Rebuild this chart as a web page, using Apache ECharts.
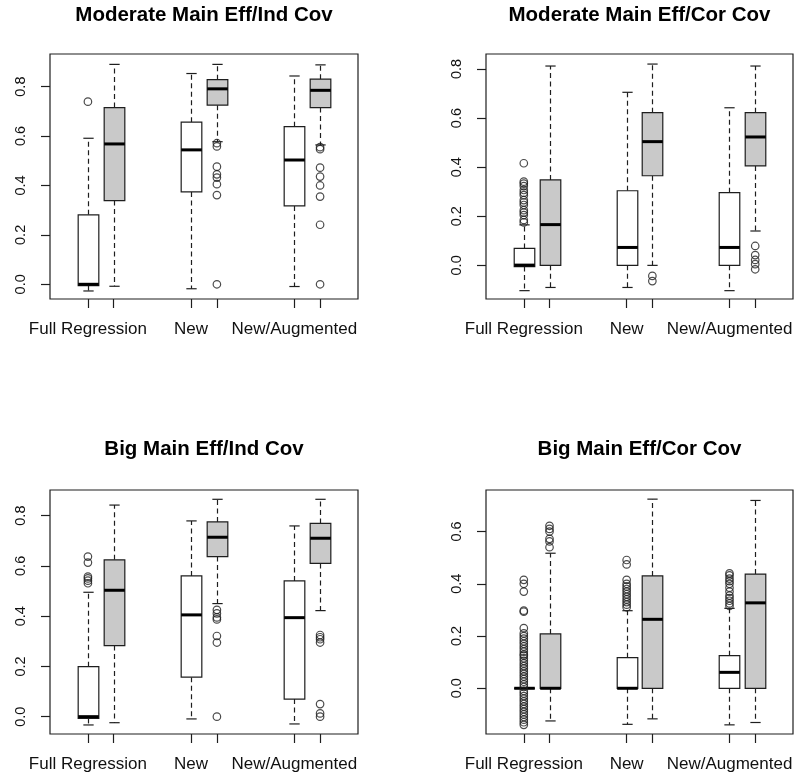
<!DOCTYPE html>
<html>
<head>
<meta charset="utf-8">
<script src="https://cdn.jsdelivr.net/npm/echarts@6/dist/echarts.min.js"></script>
<style>
  html, body { margin: 0; padding: 0; background: #fff; }
  #chart { width: 797px; height: 781px; }
</style>
</head>
<body>
<div id="chart"></div>
<script>
// Box positions along each x axis: white box, then grey box, per method
const boxPositions = [1, 2, 5, 6, 9, 10];
const labelPositions = [1, 5, 9];
const groupLabels = ['Full Regression', 'New', 'New/Augmented'];
const yTicks = [0, 0.2, 0.4, 0.6, 0.8];
const panelTitles = [
  'Moderate Main Eff/Ind Cov',
  'Moderate Main Eff/Cor Cov',
  'Big Main Eff/Ind Cov',
  'Big Main Eff/Cor Cov'
];

// Five-number summaries per box: [lower whisker, Q1, median, Q3, upper whisker]
const modIndStats = [
  [-0.027, -0.005, 0.0, 0.281, 0.591],
  [-0.008, 0.339, 0.568, 0.715, 0.890],
  [-0.018, 0.374, 0.544, 0.656, 0.853],
  [0.577, 0.725, 0.791, 0.828, 0.890],
  [-0.009, 0.317, 0.503, 0.638, 0.843],
  [0.564, 0.715, 0.785, 0.830, 0.888]
];
const modIndOutliers = [
  [0.739],
  [],
  [],
  [0.571, 0.558, 0.476, 0.445, 0.432, 0.405, 0.361, 0.0],
  [],
  [0.555, 0.547, 0.472, 0.436, 0.400, 0.355, 0.241, 0.0]
];

const modCorStats = [
  [-0.103, -0.005, 0.001, 0.069, 0.165],
  [-0.090, 0.0, 0.166, 0.348, 0.812],
  [-0.090, 0.0, 0.073, 0.304, 0.705],
  [0.0, 0.365, 0.504, 0.622, 0.820],
  [-0.103, 0.0, 0.073, 0.296, 0.642],
  [0.140, 0.405, 0.523, 0.622, 0.812]
];
const modCorOutliers = [
  [0.416, 0.341, 0.333, 0.323, 0.307, 0.296, 0.286, 0.266, 0.256, 0.246, 0.225, 0.215, 0.205, 0.185, 0.175],
  [],
  [],
  [-0.043, -0.064],
  [],
  [0.079, 0.042, 0.022, 0.005, -0.016]
];

const bigIndStats = [
  [-0.033, -0.007, 0.0, 0.199, 0.495],
  [-0.024, 0.283, 0.503, 0.624, 0.842],
  [-0.009, 0.157, 0.405, 0.560, 0.779],
  [0.450, 0.637, 0.714, 0.775, 0.865],
  [-0.029, 0.070, 0.394, 0.540, 0.759],
  [0.422, 0.610, 0.710, 0.769, 0.865]
];
const bigIndOutliers = [
  [0.637, 0.613, 0.557, 0.550, 0.541, 0.531],
  [],
  [],
  [0.425, 0.411, 0.395, 0.387, 0.321, 0.295, 0.0],
  [],
  [0.325, 0.316, 0.308, 0.295, 0.050, 0.013, 0.0]
];

const bigCorStats = [
  [0.0, 0.0, 0.0, 0.0, 0.0],
  [-0.125, 0.0, 0.0, 0.208, 0.517],
  [-0.138, 0.0, 0.0, 0.117, 0.297],
  [-0.117, 0.0, 0.264, 0.430, 0.724],
  [-0.140, 0.0, 0.061, 0.125, 0.306],
  [-0.131, 0.0, 0.327, 0.437, 0.719]
];
const bigCorOutliers = [
  [0.415, 0.400, 0.370, 0.297, 0.293, 0.230, 0.210, 0.200, 0.190, 0.180, 0.170, 0.160,
   0.150, 0.140, 0.130, 0.125, 0.115, 0.105, 0.095, 0.085, 0.075, 0.065, 0.055, 0.045,
   0.035, 0.025, 0.015, 0.005, -0.010, -0.020, -0.030, -0.040, -0.050, -0.060, -0.070,
   -0.080, -0.090, -0.100, -0.110, -0.120, -0.130, -0.140],
  [0.622, 0.610, 0.600, 0.572, 0.562, 0.540],
  [0.491, 0.474, 0.415, 0.400, 0.390, 0.380, 0.370, 0.360, 0.350, 0.340, 0.330, 0.320, 0.310],
  [],
  [0.440, 0.432, 0.420, 0.410, 0.400, 0.385, 0.370, 0.355, 0.345, 0.335, 0.325, 0.315],
  []
];

// Layout of the four plotting regions and their y ranges
const panels = [
  { stats: modIndStats, outliers: modIndOutliers, grid: { left: 50, top: 54, width: 308, height: 245 }, yMin: -0.0595, yMax: 0.932, titleTop: 5 },
  { stats: modCorStats, outliers: modCorOutliers, grid: { left: 486, top: 54, width: 307, height: 245 }, yMin: -0.137, yMax: 0.861, titleTop: 5 },
  { stats: bigIndStats, outliers: bigIndOutliers, grid: { left: 50, top: 490, width: 308, height: 244 }, yMin: -0.069, yMax: 0.902, titleTop: 439 },
  { stats: bigCorStats, outliers: bigCorOutliers, grid: { left: 486, top: 490, width: 307, height: 244 }, yMin: -0.175, yMax: 0.759, titleTop: 439 }
];

const INK = '#1e1e1e';
const FILLS = ['#ffffff', '#c9c9c9'];
const BOX_WIDTH = 0.8;

function renderBox(params, api) {
  const pos = api.value(0);
  const low = api.coord([pos, api.value(1)]);
  const q1 = api.coord([pos, api.value(2)]);
  const med = api.coord([pos, api.value(3)]);
  const q3 = api.coord([pos, api.value(4)]);
  const high = api.coord([pos, api.value(5)]);
  const fill = FILLS[api.value(6)];
  const half = api.size([BOX_WIDTH, 0])[0] / 2;
  const cap = half / 2;
  const x = Math.round(low[0]) + 0.5;
  const solid = { stroke: INK, lineWidth: 1.2 };
  const dashed = { stroke: INK, lineWidth: 1.2, lineDash: [5, 3.5] };
  return {
    type: 'group',
    children: [
      { type: 'line', shape: { x1: x, y1: q1[1], x2: x, y2: low[1] }, style: dashed },
      { type: 'line', shape: { x1: x, y1: q3[1], x2: x, y2: high[1] }, style: dashed },
      { type: 'line', shape: { x1: x - cap, y1: low[1], x2: x + cap, y2: low[1] }, style: solid },
      { type: 'line', shape: { x1: x - cap, y1: high[1], x2: x + cap, y2: high[1] }, style: solid },
      { type: 'rect', shape: { x: x - half, y: q3[1], width: half * 2, height: q1[1] - q3[1] },
        style: { fill: fill, stroke: INK, lineWidth: 1.2 } },
      { type: 'line', shape: { x1: x - half, y1: med[1], x2: x + half, y2: med[1] },
        style: { stroke: '#000', lineWidth: 3 } }
    ]
  };
}

const grids = [], xAxes = [], yAxes = [], series = [], titles = [];

panels.forEach((p, i) => {
  grids.push(Object.assign({ show: true, borderColor: INK, borderWidth: 1.2, backgroundColor: 'transparent' }, p.grid));
  titles.push({
    text: panelTitles[i],
    left: p.grid.left + p.grid.width / 2,
    top: p.titleTop,
    padding: 0,
    textAlign: 'center',
    textStyle: { fontFamily: 'Liberation Sans, Arial, sans-serif', fontSize: 20.5, fontWeight: 'bold', color: '#000' }
  });
  xAxes.push({
    gridIndex: i, type: 'value', min: -0.47, max: 11.47,
    axisLine: { show: false, onZero: false }, splitLine: { show: false },
    axisTick: { show: true, customValues: boxPositions, length: 9, lineStyle: { color: INK, width: 1.2 } },
    axisLabel: {
      customValues: labelPositions, margin: 22,
      formatter: v => groupLabels[labelPositions.indexOf(v)],
      fontFamily: 'Liberation Sans, Arial, sans-serif', fontSize: 17, color: '#111'
    }
  });
  yAxes.push({
    gridIndex: i, type: 'value', min: p.yMin, max: p.yMax,
    axisLine: { show: false, onZero: false }, splitLine: { show: false },
    axisTick: { show: true, customValues: yTicks, length: 9, lineStyle: { color: INK, width: 1.2 } },
    axisLabel: {
      customValues: yTicks, rotate: 90, margin: 22,
      formatter: v => v.toFixed(1),
      fontFamily: 'Liberation Sans, Arial, sans-serif', fontSize: 14.5, color: '#111'
    }
  });
  series.push({
    type: 'custom', xAxisIndex: i, yAxisIndex: i, silent: true,
    renderItem: renderBox,
    encode: { x: 0, y: [1, 2, 3, 4, 5] },
    data: p.stats.map((s, k) => [boxPositions[k], s[0], s[1], s[2], s[3], s[4], k % 2])
  });
  const pts = [];
  p.outliers.forEach((list, k) => list.forEach(v => pts.push([boxPositions[k], v])));
  series.push({
    type: 'scatter', xAxisIndex: i, yAxisIndex: i, silent: true,
    symbol: 'circle', symbolSize: 7.5,
    itemStyle: { color: 'transparent', borderColor: INK, borderWidth: 1.2 },
    data: pts, z: 3
  });
});

const chart = echarts.init(document.getElementById('chart'), null, { renderer: 'canvas' });
chart.setOption({
  animation: false,
  backgroundColor: '#fff',
  title: titles,
  grid: grids,
  xAxis: xAxes,
  yAxis: yAxes,
  series: series
});
</script>
</body>
</html>
